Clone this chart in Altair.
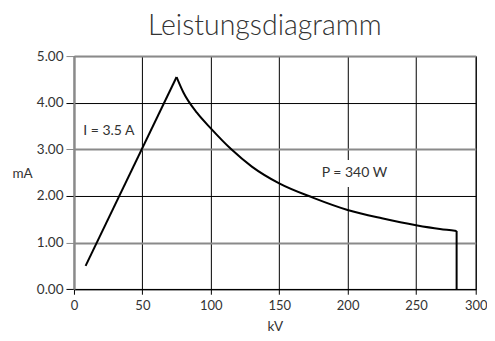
import altair as alt
import pandas as pd

# rising current-limited segment (I limit)
rise_kv = [8.5, 75]
rise_ma = [0.5, 4.55]
# constant power curve (P = 340 W)
curve_kv = [75, 80, 90, 100, 115, 130, 150, 175, 200, 225, 250, 270, 284]
curve_ma = [4.55, 4.22, 3.78, 3.45, 3.0, 2.63, 2.27, 1.96, 1.70, 1.52, 1.37, 1.29, 1.25]
# voltage limit drop
drop_kv = [284, 284]
drop_ma = [1.25, 0.0]

x_ticks = [0, 50, 100, 150, 200, 250, 300]
y_ticks = [0, 1, 2, 3, 4, 5]

label_text = ["I = 3.5 A", "P = 340 W"]
label_kv = [25.5, 205]
label_ma = [3.40, 2.49]

box_kv = [178]
box_kv2 = [232]
box_ma = [2.19]
box_ma2 = [2.77]

rows = []
for seg, xs, ys in (("rise", rise_kv, rise_ma), ("curve", curve_kv, curve_ma), ("drop", drop_kv, drop_ma)):
    for i, (a, b) in enumerate(zip(xs, ys)):
        rows.append({"seg": seg, "o": i, "kv": a, "ma": b})
line_df = pd.DataFrame(rows)
lab_df = pd.DataFrame({"t": label_text, "kv": label_kv, "ma": label_ma})
box_df = pd.DataFrame({"kv": box_kv, "kv2": box_kv2, "ma": box_ma, "ma2": box_ma2})

FONT = "Lato"
TXT = "#333333"
GREY = "#8a8a8a"

W = 402
H = 233.3

x_enc = alt.X(
    "kv:Q",
    scale=alt.Scale(domain=[0, 250, 300], range=[0, 342.3, W], nice=False, zero=False),
    axis=alt.Axis(
        values=x_ticks, title="kV", grid=True, labelFlush=False,
        gridColor={"condition": {"test": "datum.value == 0", "value": GREY}, "value": "black"},
        gridWidth={"condition": {"test": "datum.value == 0", "value": 2}, "value": 1},
        domainColor="black", domainWidth=1,
        tickColor="black", tickSize=5, labelPadding=5,
        labelFont=FONT, labelFontSize=13, labelColor=TXT,
        titleFont=FONT, titleFontSize=13.5, titleFontWeight="normal", titleColor=TXT, titlePadding=7,
    ),
)
odd = "datum.value % 2 == 1"
y_enc = alt.Y(
    "ma:Q",
    scale=alt.Scale(domain=[0, 5], nice=False),
    axis=alt.Axis(
        values=y_ticks, format=".2f", title="mA", grid=True,
        gridColor={"condition": {"test": odd, "value": GREY}, "value": "black"},
        gridWidth={"condition": {"test": odd, "value": 2}, "value": 1},
        domainColor=GREY, domainWidth=2,
        tickColor={"condition": {"test": odd, "value": GREY}, "value": "black"},
        tickSize=8, labelPadding=3,
        labelFont=FONT, labelFontSize=13.5, labelColor=TXT,
        titleFont=FONT, titleFontSize=13.5, titleFontWeight="normal", titleColor=TXT,
        titleAngle=0, titleX=-52, titleY=H / 2 + 1, titleAlign="center", titleBaseline="middle",
    ),
)

bg = alt.Chart(box_df).mark_rect(color="white").encode(
    x=x_enc, x2="kv2:Q", y=alt.Y("ma:Q"), y2="ma2:Q"
)
line = alt.Chart(line_df).mark_line(color="black", strokeWidth=2, interpolate="monotone").encode(
    x=alt.X("kv:Q"), y=y_enc, detail="seg:N", order="o:Q"
)
txt = alt.Chart(lab_df).mark_text(font=FONT, fontSize=14, color=TXT, align="center", baseline="middle").encode(
    x=alt.X("kv:Q"), y=alt.Y("ma:Q"), text="t:N"
)

chart = alt.layer(bg, line, txt).properties(
    width=W, height=H,
    title=alt.Title("Leistungsdiagramm", font=FONT, fontSize=28.5, fontWeight=300, color=TXT,
                    anchor="middle", dx=-10, offset=9),
    autosize="none",
    padding={"left": 66, "top": 48, "right": 11.3, "bottom": 44},
).configure_view(stroke="black", strokeWidth=1)

chart.save("out.html", embed_options={"renderer": "svg", "actions": False})
